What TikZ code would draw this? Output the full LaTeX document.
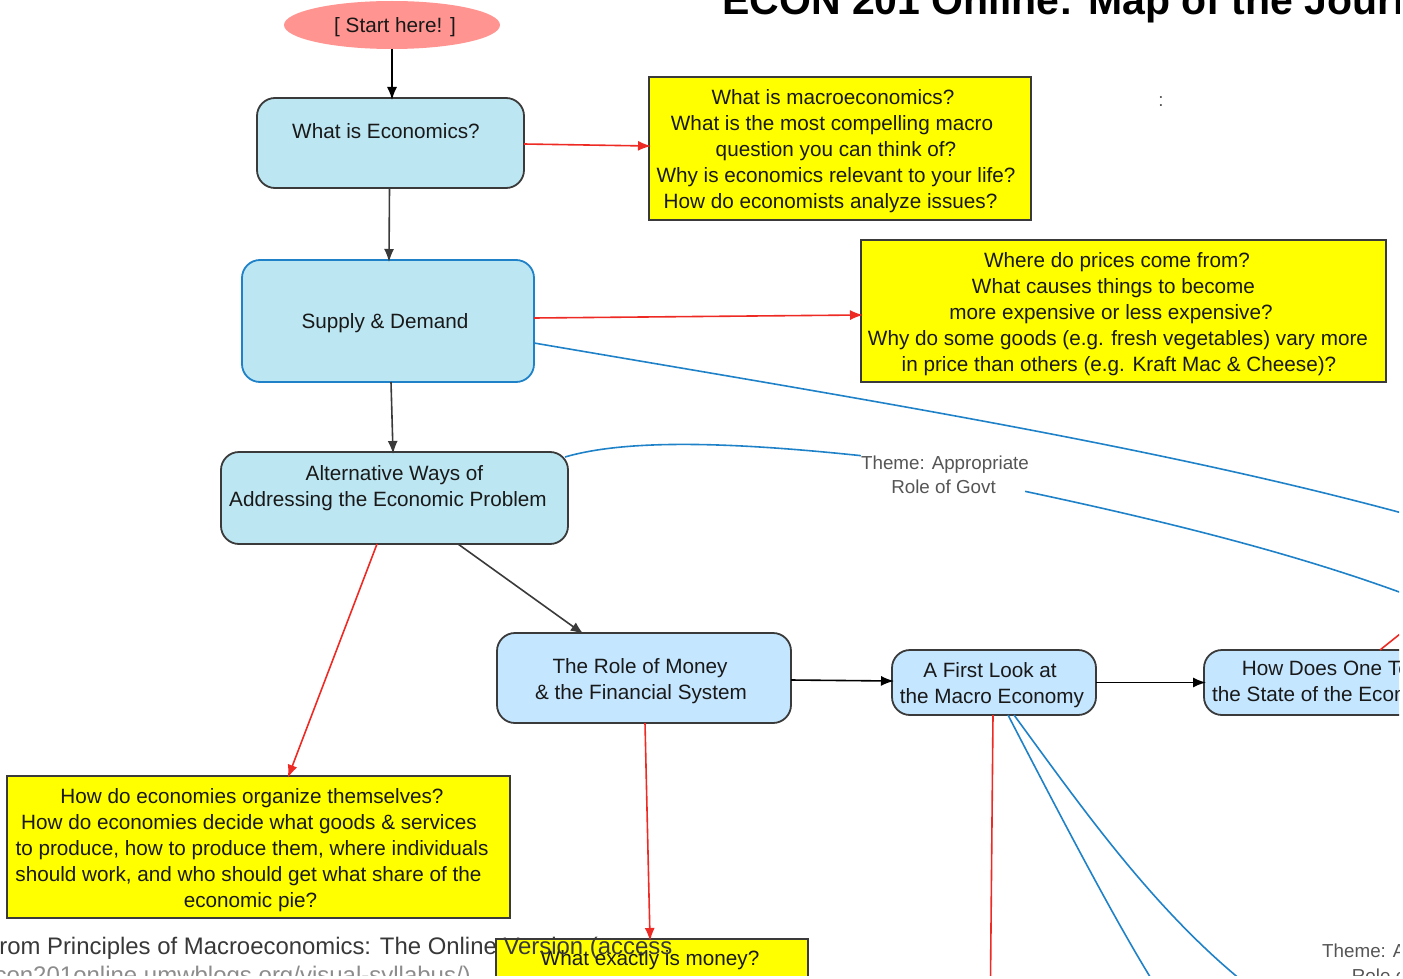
\documentclass[tikz,border=0pt]{standalone}
\usepackage{fontspec}
\setmainfont{Liberation Sans}
\usetikzlibrary{arrows.meta,shapes.geometric}
\definecolor{cyanbox}{HTML}{BCE6F2}
\definecolor{skybox}{HTML}{C4E6FF}
\definecolor{ybox}{HTML}{FFFF00}
\definecolor{linkblue}{HTML}{1F82C8}
\definecolor{redline}{HTML}{EE2A24}
\definecolor{darkline}{HTML}{3A3A3A}
\definecolor{startfill}{HTML}{FF9490}
\definecolor{greytext}{HTML}{555555}
\newcommand{\ls}[1]{\hspace*{#1}}
\tikzset{
  basebox/.style={draw=darkline,line width=1.8pt,inner sep=0pt,outer sep=0pt},
  flowbox/.style={basebox,rectangle,rounded corners=18pt},
  cyan box/.style={flowbox,fill=cyanbox},
  sky box/.style={flowbox,fill=skybox},
  question/.style={basebox,rectangle,fill=ybox},
  txt/.style={font=\fontsize{20.7pt}{26pt}\selectfont,align=center,inner sep=0pt,text=black!90},
  theme/.style={txt,text=greytext,font=\fontsize{18.8pt}{24.5pt}\selectfont},
  flow/.style={line width=1.6pt,shorten >=-2pt,-{Latex[length=13pt,width=10pt]}},
  blackflow/.style={flow,draw=black},
  greyflow/.style={flow,draw=darkline},
  redflow/.style={flow,draw=redline},
  blueflow/.style={line width=1.6pt,draw=linkblue},
  plainred/.style={line width=1.6pt,draw=redline},
}
\begin{document}
\begin{tikzpicture}[x=1pt,y=-1pt]
\useasboundingbox (0,0) rectangle (1403,979);
\begin{scope}
\clip (0,0) rectangle (1399,975);
% title
\node[anchor=base west,inner sep=0pt,font=\bfseries\fontsize{41pt}{41pt}\selectfont] (title) at (722,15) {ECON 201 Online: Map of the Journey};
\node[theme] (colon) at (1161,102) {:};
% shapes
\node[ellipse,fill=startfill,minimum width=216pt,minimum height=48pt,inner sep=0pt,outer sep=0pt] (start) at (392,25) {};
\node[txt] (startT) at (395,27) {[ Start here! ]};
\node[cyan box,minimum width=267pt,minimum height=90pt] (econ) at (390.5,143) {};
\node[txt] (econT) at (386,131) {What is Economics?};
\node[question,minimum width=382pt,minimum height=143pt] (ymacro) at (840,148.5) {};
\node[txt] (ymacroT) at (836,151) {\ls{-6pt}What is macroeconomics?\\\ls{-8pt}What is the most compelling macro\\question you can think of?\\Why is economics relevant to your life?\\\ls{-11pt}How do economists analyze issues?};
\node[cyan box,draw=linkblue,minimum width=292pt,minimum height=122pt] (supply) at (388,321) {};
\node[txt] (supplyT) at (385,323) {Supply \& Demand};
\node[question,minimum width=525pt,minimum height=142pt] (yprice) at (1123.5,311) {};
\node[txt] (ypriceT) at (1118,314) {\ls{-2pt}Where do prices come from?\\\ls{-9pt}What causes things to become\\\ls{-14pt}more expensive or less expensive?\\Why do some goods (e.g. fresh vegetables) vary more\\\ls{2pt}in price than others (e.g. Kraft Mac \& Cheese)?};
\node[cyan box,minimum width=347pt,minimum height=92pt] (alt) at (394.5,498) {};
\node[txt] (altT) at (388,488.5) {\ls{13pt}Alternative Ways of\\Addressing the Economic Problem};
\node[theme] (themeA) at (945,475) {Theme: Appropriate\\\ls{-3pt}Role of Govt};
\node[question,minimum width=503pt,minimum height=142pt] (yorg) at (258.5,847) {};
\node[txt] (yorgT) at (252,850) {How do economies organize themselves?\\\ls{-6pt}How do economies decide what goods \& services\\to produce, how to produce them, where individuals\\\ls{-7pt}should work, and who should get what share of the\\\ls{-3pt}economic pie?};
\node[sky box,minimum width=294pt,minimum height=90pt] (money) at (644,678) {};
\node[txt] (moneyT) at (641,681) {\ls{-2pt}The Role of Money\\\& the Financial System};
\node[sky box,minimum width=204pt,minimum height=65pt] (first) at (994,682.5) {};
\node[txt] (firstT) at (992,685) {\ls{-4pt}A First Look at\\the Macro Economy};
\node[sky box,minimum width=290pt,minimum height=65pt] (how) at (1349,682.5) {};
\node[txt,anchor=north west] (howT) at (1212,660) {\ls{4pt}How Does One Tell\\the State of the Economy};
\node[question,minimum width=312pt,minimum height=70pt] (ymoney) at (652,974) {};
\node[txt] (ymoneyT) at (650,960) {What exactly is money?};
\node[theme,anchor=north west] (themeB) at (1322,944) {Theme: Appropriate\\\ls{-4pt}Role of Govt};
% page text, printed over the boxes
\node[anchor=base west,inner sep=0pt,text=black!78,font=\fontsize{23.9pt}{24pt}\selectfont] (pagea) at (-15.5,954) {From Principles of Macroeconomics: The Online Version (access};
\node[anchor=base west,inner sep=0pt,text=black!45,font=\fontsize{24pt}{24pt}\selectfont] (pageb) at (-19,983) {econ201online.umwblogs.org/visual-syllabus/)};
% free ends
\coordinate (offA) at (1402,513);
\coordinate (offB) at (1402,593);
\coordinate (offC) at (1400,634);
\coordinate (downA) at (990.5,980);
\coordinate (downB) at (1152,980);
\coordinate (downC) at (1241,980);
% connectors
\draw[blackflow] (start.south) -- (392,98);
\draw[redflow] ([yshift=-1pt]econ.east) -- ([yshift=2.5pt]ymacro.west);
\draw[greyflow] ([xshift=-1pt]econ.south) -- ([xshift=1pt]supply.north);
\draw[redflow] ([yshift=3pt]supply.east) -- ([yshift=-4pt]yprice.west);
\draw[blueflow] ([yshift=-22pt]supply.east) .. controls (850,397) and (1150,445) .. (offA);
\draw[greyflow] ([xshift=3pt]supply.south) -- ([xshift=-1.5pt]alt.north);
\path (alt.north east) ++(-3,5) coordinate (altcurve);
\draw[blueflow] (altcurve) .. controls (630,438) and (740,443) .. (themeA.north west);
\path (themeA.south east) ++(-4,-3) coordinate (themeEnd);
\draw[blueflow] (themeEnd) .. controls (1160,520) and (1290,552) .. (offB);
\draw[redflow] ([xshift=-17.5pt]alt.south) -- ([xshift=30pt]yorg.north);
\draw[greyflow] ([xshift=63.5pt]alt.south) -- ([xshift=-62pt]money.north);
\draw[blackflow] ([yshift=-2pt]money.east) -- ([yshift=1.5pt]first.west);
\draw[blackflow] (first.east) -- (how.west);
\draw[redflow] ([xshift=1pt]money.south) -- ([xshift=-2pt]ymoney.north);
\draw[plainred] ([xshift=-1pt]first.south) -- (downA);
\draw[blueflow] ([xshift=14pt]first.south) .. controls (1065,825) and (1115,920) .. (downB);
\draw[blueflow] ([xshift=20pt]first.south) .. controls (1080,805) and (1150,905) .. (downC);
\draw[plainred] ([xshift=31pt]how.north) -- (offC);
\end{scope}
\end{tikzpicture}
\end{document}
